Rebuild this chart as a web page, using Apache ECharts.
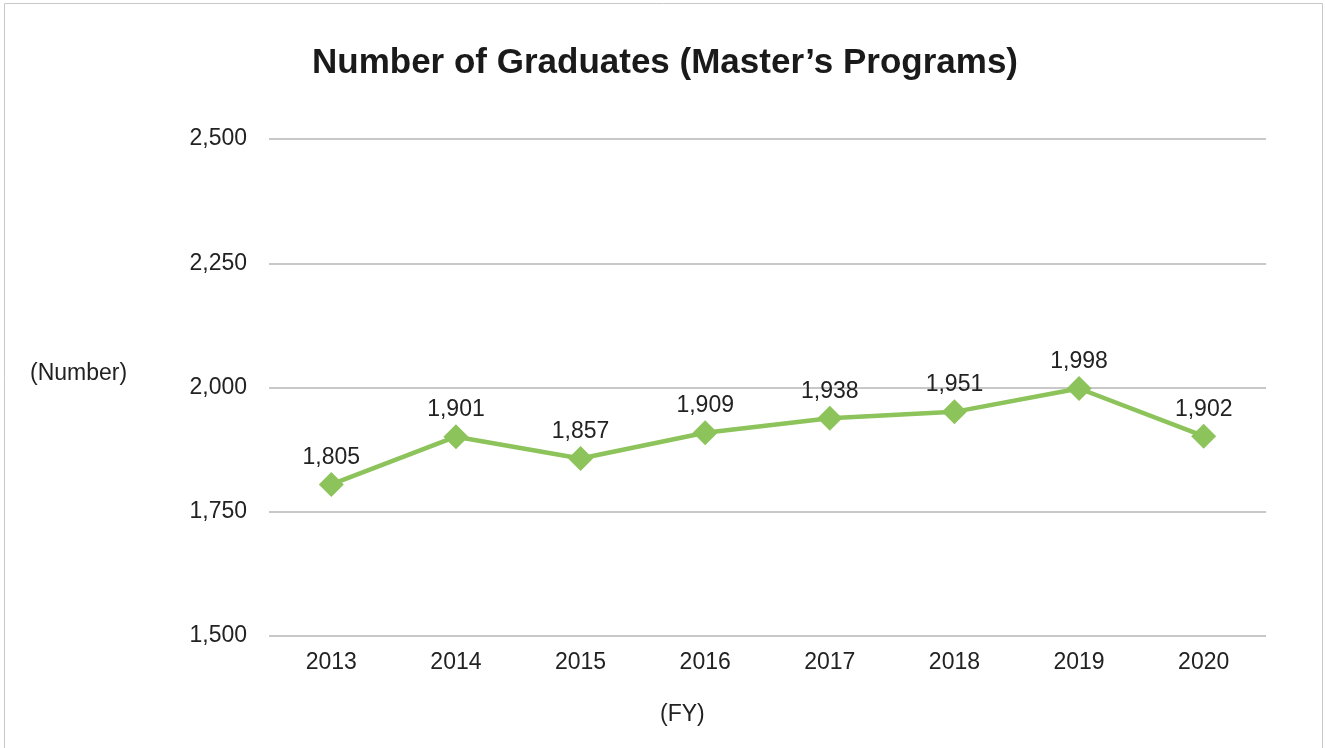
<!DOCTYPE html>
<html>
<head>
<meta charset="utf-8">
<script src="https://cdn.jsdelivr.net/npm/echarts@6/dist/echarts.min.js"></script>
<style>
html,body{margin:0;padding:0;background:#fff;}
#chart{width:1325px;height:748px;}
</style>
</head>
<body>
<div id="chart"></div>
<script>
const categories = ['2013','2014','2015','2016','2017','2018','2019','2020'];
const graduates = [1805, 1901, 1857, 1909, 1938, 1951, 1998, 1902];
const yTicks = [1500, 1750, 2000, 2250, 2500];
const titleText = 'Number of Graduates (Master\u2019s Programs)';
const yName = '(Number)';
const xName = '(FY)';

const font = 'Liberation Sans, Arial, sans-serif';
const chart = echarts.init(document.getElementById('chart'));
chart.setOption({
  animation: false,
  backgroundColor: '#fff',
  title: {
    text: titleText,
    left: 660, top: 41, textAlign: 'center',
    textStyle: {fontFamily: font, fontSize: 35, fontWeight: 'bold', color: '#1a1a1a'}
  },
  graphic: [
    {type: 'rect', shape: {x: 4.5, y: 3.5, width: 1318, height: 770}, style: {fill: 'none', stroke: '#c8c8c8', lineWidth: 1}},
    {type: 'text', left: 30, top: 362, style: {text: yName, font: '23px ' + font, fill: '#222'}},
    {type: 'text', left: 660, top: 703, style: {text: xName, font: '23px ' + font, fill: '#222'}}
  ],
  grid: {left: 269, right: 59, top: 139, bottom: 112},
  xAxis: {
    type: 'category',
    data: categories,
    boundaryGap: true,
    axisLine: {show: false},
    axisTick: {show: false},
    axisLabel: {fontFamily: font, fontSize: 23, color: '#222', margin: 15}
  },
  yAxis: {
    type: 'value',
    min: yTicks[0], max: yTicks[yTicks.length - 1], interval: 250,
    axisLine: {show: false},
    axisTick: {show: false},
    splitLine: {lineStyle: {color: '#c8c8c8', width: 2}},
    axisLabel: {
      fontFamily: font, fontSize: 23, color: '#222', margin: 22,
      formatter: v => v.toLocaleString('en-US')
    }
  },
  series: [{
    type: 'line',
    data: graduates,
    symbol: 'diamond',
    symbolSize: 25,
    lineStyle: {color: '#8cc35a', width: 4.5},
    itemStyle: {color: '#8cc35a'},
    label: {
      show: true, position: 'top', distance: 3,
      fontFamily: font, fontSize: 23, color: '#222',
      formatter: p => p.value.toLocaleString('en-US')
    }
  }]
});
</script>
</body>
</html>
